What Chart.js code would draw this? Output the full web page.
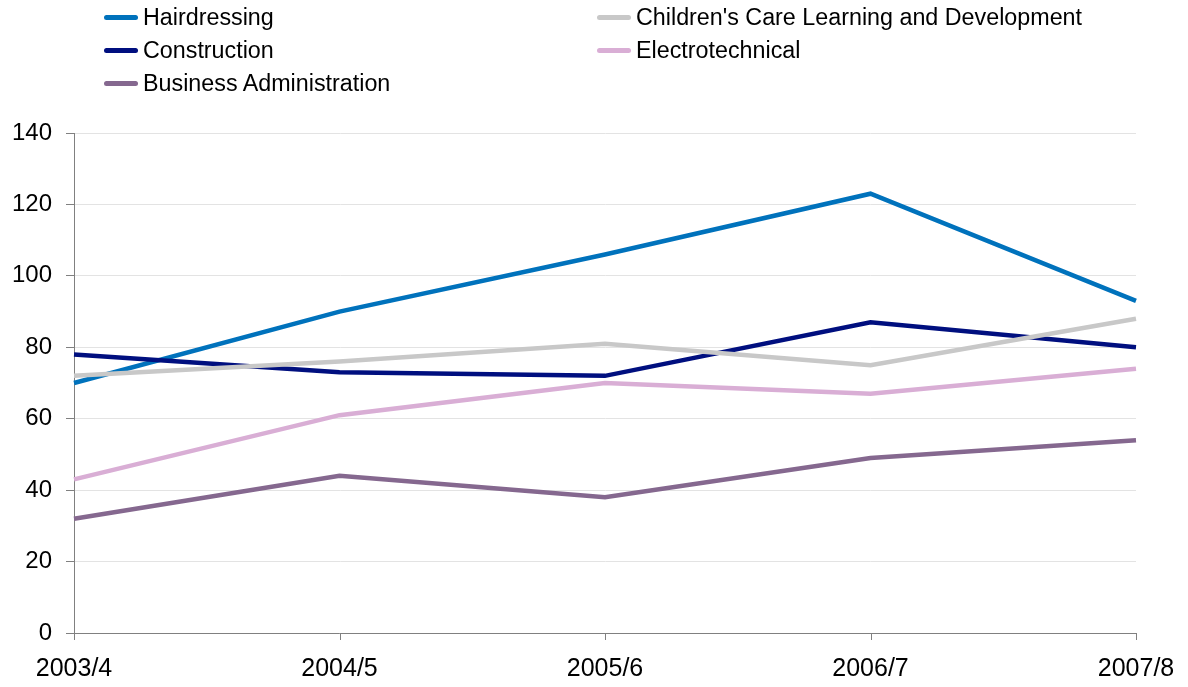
<!DOCTYPE html>
<html>
<head>
<meta charset="utf-8">
<script src="https://cdn.jsdelivr.net/npm/chart.js@4"></script>
<style>
  html, body { margin: 0; padding: 0; background: #fff; }
  #wrap { position: relative; width: 1188px; height: 687px; }
  #legend { position: absolute; left: 0; top: 0; width: 1188px; font-family: Arial, "Liberation Sans", sans-serif; font-size: 23.3px; color: #000; }
  .item { position: absolute; height: 33px; line-height: 33px; white-space: nowrap; }
  .item span.swatch { position: absolute; top: 14px; width: 34px; height: 5px; border-radius: 2.5px; }
  .item span.txt { position: absolute; left: 39px; }
</style>
</head>
<body>
<div id="wrap">
  <canvas id="chart" width="1188" height="687"></canvas>
  <div id="legend"></div>
</div>
<script>
// Years on the x axis
const years = ['2003/4', '2004/5', '2005/6', '2006/7', '2007/8'];

// Series values
const hairdressing = [70, 90, 106, 123, 93];
const childrensCare = [72, 76, 81, 75, 88];
const construction = [78, 73, 72, 87, 80];
const electrotechnical = [43, 61, 70, 67, 74];
const businessAdmin = [32, 44, 38, 49, 54];

const seriesNames = ['Hairdressing', "Children's Care Learning and Development", 'Construction', 'Electrotechnical', 'Business Administration'];
const seriesValues = [hairdressing, childrensCare, construction, electrotechnical, businessAdmin];
const seriesColors = ['#0072BC', '#C8C8C8', '#000F7F', '#D9AED5', '#85688F'];

// Draw order: back to front like the original
const drawOrder = [4, 3, 1, 2, 0];

const datasets = seriesNames.map((name, i) => ({
  label: name,
  data: seriesValues[i],
  borderColor: seriesColors[i],
  backgroundColor: seriesColors[i],
  borderWidth: 4.5,
  pointRadius: 0,
  tension: 0,
  fill: false,
  order: drawOrder.indexOf(i)
}));

const ctx = document.getElementById('chart').getContext('2d');
const chart = new Chart(ctx, {
  type: 'line',
  data: { labels: years, datasets: datasets },
  options: {
    responsive: false,
    animation: false,
    layout: { padding: { left: 12, right: 52, top: 133, bottom: 0 } },
    plugins: {
      legend: { display: false },
      tooltip: { enabled: false }
    },
    scales: {
      x: {
        offset: false,
        grid: { display: false, drawTicks: true, tickLength: 7, color: '#808080' },
        border: { display: true, color: '#808080', width: 1 },
        ticks: {
          color: '#000',
          font: { family: 'Arial, "Liberation Sans", sans-serif', size: 25, lineHeight: 1.48 },
          padding: 11,
          maxRotation: 0
        },
        afterFit: s => { s.height = 54; }
      },
      y: {
        min: 0,
        max: 140,
        grid: {
          color: '#E3E3E3',
          tickColor: '#808080',
          tickLength: 8,
          drawTicks: true
        },
        border: { display: true, color: '#808080', width: 1 },
        ticks: {
          stepSize: 20,
          color: '#000',
          font: { family: 'Arial, "Liberation Sans", sans-serif', size: 24 },
          padding: 14
        },
        afterFit: s => { s.width = 62; }
      }
    }
  },
  plugins: [{
    // x axis tick marks are drawn by hand since the vertical grid is hidden
    id: 'xTicks',
    afterDraw(c) {
      const x = c.scales.x;
      const g = c.ctx;
      g.save();
      g.strokeStyle = '#808080';
      g.lineWidth = 1;
      x.ticks.forEach((t, i) => {
        const px = Math.round(x.getPixelForTick(i)) + 0.5;
        g.beginPath();
        g.moveTo(px, x.top);
        g.lineTo(px, x.top + 7);
        g.stroke();
      });
      g.restore();
    }
  }]
});

// Two-column legend, row by row
const legend = document.getElementById('legend');
const colX = [104, 597];
const rowY = [1, 34, 67];
seriesNames.forEach((name, i) => {
  const item = document.createElement('div');
  item.className = 'item';
  item.style.left = colX[i % 2] + 'px';
  item.style.top = rowY[Math.floor(i / 2)] + 'px';
  item.innerHTML = '<span class="swatch" style="background:' + seriesColors[i] + '"></span><span class="txt"></span>';
  item.querySelector('.txt').textContent = name;
  legend.appendChild(item);
});
</script>
</body>
</html>
